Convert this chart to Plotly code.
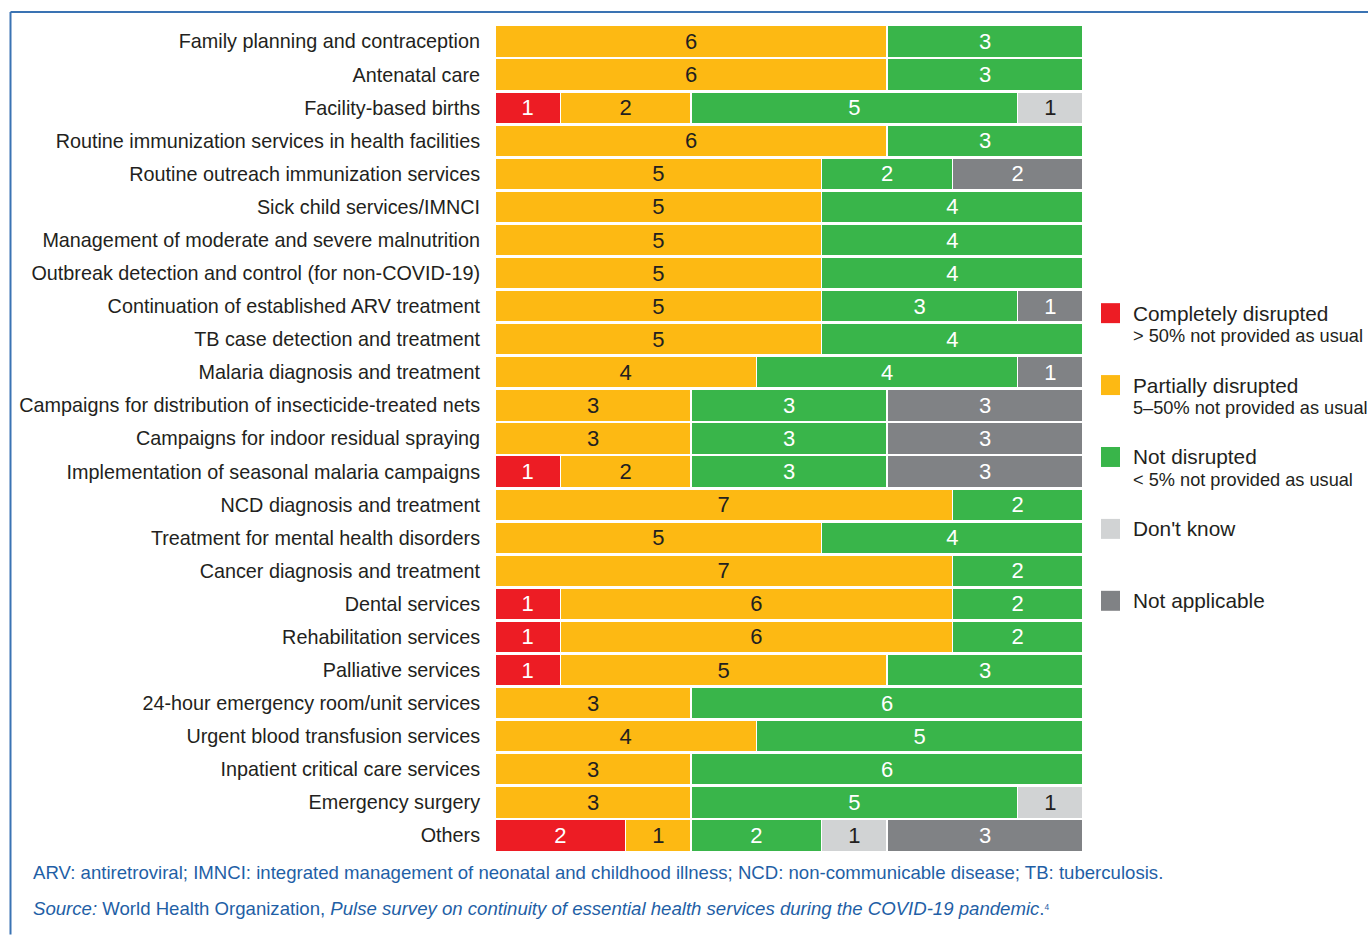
import plotly.graph_objects as go

categories = [
    "Family planning and contraception",
    "Antenatal care",
    "Facility-based births",
    "Routine immunization services in health facilities",
    "Routine outreach immunization services",
    "Sick child services/IMNCI",
    "Management of moderate and severe malnutrition",
    "Outbreak detection and control (for non-COVID-19)",
    "Continuation of established ARV treatment",
    "TB case detection and treatment",
    "Malaria diagnosis and treatment",
    "Campaigns for distribution of insecticide-treated nets",
    "Campaigns for indoor residual spraying",
    "Implementation of seasonal malaria campaigns",
    "NCD diagnosis and treatment",
    "Treatment for mental health disorders",
    "Cancer diagnosis and treatment",
    "Dental services",
    "Rehabilitation services",
    "Palliative services",
    "24-hour emergency room/unit services",
    "Urgent blood transfusion services",
    "Inpatient critical care services",
    "Emergency surgery",
    "Others",
]

completely_disrupted = [0, 0, 1, 0, 0, 0, 0, 0, 0, 0, 0, 0, 0, 1, 0, 0, 0, 1, 1, 1, 0, 0, 0, 0, 2]
partially_disrupted  = [6, 6, 2, 6, 5, 5, 5, 5, 5, 5, 4, 3, 3, 2, 7, 5, 7, 6, 6, 5, 3, 4, 3, 3, 1]
not_disrupted        = [3, 3, 5, 3, 2, 4, 4, 4, 3, 4, 4, 3, 3, 3, 2, 4, 2, 2, 2, 3, 6, 5, 6, 5, 2]
dont_know            = [0, 0, 1, 0, 0, 0, 0, 0, 0, 0, 0, 0, 0, 0, 0, 0, 0, 0, 0, 0, 0, 0, 0, 1, 1]
not_applicable       = [0, 0, 0, 0, 2, 0, 0, 0, 1, 0, 1, 3, 3, 3, 0, 0, 0, 0, 0, 0, 0, 0, 0, 0, 3]

series_names = ["Completely disrupted", "Partially disrupted", "Not disrupted", "Don't know", "Not applicable"]
series_subtitles = ["> 50% not provided as usual", "5–50% not provided as usual", "< 5% not provided as usual", "", ""]
series_values = [completely_disrupted, partially_disrupted, not_disrupted, dont_know, not_applicable]
series_colors = ["#ED1C24", "#FDB913", "#39B54A", "#D1D3D4", "#808285"]
text_colors = ["white", "#231F20", "white", "#231F20", "white"]

FONT = "Liberation Sans, Arial, sans-serif"
W, H = 1368, 935
L, R, T, B = 495, 1083, 24.5, 852.5

def px_x(p):
    return (p - L) / (R - L)

def px_y(p):
    return (B - p) / (B - T)

fig = go.Figure()
for name, vals, col, tcol in zip(series_names, series_values, series_colors, text_colors):
    xs = [v if v else None for v in vals]
    fig.add_trace(go.Bar(
        y=categories, x=xs, name=name, orientation="h",
        marker=dict(color=col, line=dict(color="white", width=1.5)),
        texttemplate="%{x}",
        textposition="inside", insidetextanchor="middle", textangle=0,
        constraintext="none",
        textfont=dict(family=FONT, size=22, color=tcol),
        hoverinfo="x+y+name",
    ))

shapes = []
annotations = []
# frame lines
shapes.append(dict(type="line", xref="paper", yref="paper",
                   x0=px_x(10.5), x1=px_x(1368), y0=px_y(11.5), y1=px_y(11.5),
                   line=dict(color="#3A73B3", width=2)))
shapes.append(dict(type="line", xref="paper", yref="paper",
                   x0=px_x(10.5), x1=px_x(10.5), y0=px_y(11.5), y1=px_y(935),
                   line=dict(color="#3A73B3", width=2)))

# legend
legend_y = [313, 385, 457, 529, 601]
for name, sub, col, cy in zip(series_names, series_subtitles, series_colors, legend_y):
    shapes.append(dict(type="rect", xref="paper", yref="paper",
                       x0=px_x(1101), x1=px_x(1120), y0=px_y(cy - 10), y1=px_y(cy + 10),
                       fillcolor=col, line=dict(width=0)))
    annotations.append(dict(xref="paper", yref="paper", x=px_x(1131), y=px_y(cy),
                            text=name, showarrow=False, xanchor="left", yanchor="middle",
                            font=dict(family=FONT, size=20.8, color="#231F20")))
    if sub:
        annotations.append(dict(xref="paper", yref="paper", x=px_x(1131), y=px_y(cy + 23),
                                text=sub, showarrow=False, xanchor="left", yanchor="middle",
                                font=dict(family=FONT, size=18.2, color="#231F20")))

# footnotes
annotations.append(dict(xref="paper", yref="paper", x=px_x(31), y=px_y(873),
                        text="ARV: antiretroviral; IMNCI: integrated management of neonatal and childhood illness; NCD: non-communicable disease; TB: tuberculosis.",
                        showarrow=False, xanchor="left", yanchor="middle",
                        font=dict(family=FONT, size=18.6, color="#1F5FA6")))
annotations.append(dict(xref="paper", yref="paper", x=px_x(31), y=px_y(909),
                        text="<i>Source:</i> World Health Organization, <i>Pulse survey on continuity of essential health services during the COVID-19 pandemic</i>.<span style='font-size:12px'><sup>4</sup></span>",
                        showarrow=False, xanchor="left", yanchor="middle",
                        font=dict(family=FONT, size=18.6, color="#1F5FA6")))

fig.update_layout(
    width=W, height=H,
    margin=dict(l=L, r=W - R, t=T, b=H - B, autoexpand=False),
    barmode="stack", bargap=0.04,
    showlegend=False,
    plot_bgcolor="white", paper_bgcolor="white",
    shapes=shapes, annotations=annotations,
    font=dict(family=FONT, color="#231F20"),
)
fig.update_xaxes(range=[0, 9], visible=False, fixedrange=True)
fig.update_yaxes(autorange="reversed", showgrid=False, zeroline=False, showline=False,
                 ticks="outside", ticklen=10, tickcolor="rgba(0,0,0,0)",
                 tickfont=dict(family=FONT, size=19.8, color="#231F20"))

fig.write_html("out.html", config={"displayModeBar": False},
               post_script="document.body.style.margin='0';document.body.style.overflow='hidden';")
